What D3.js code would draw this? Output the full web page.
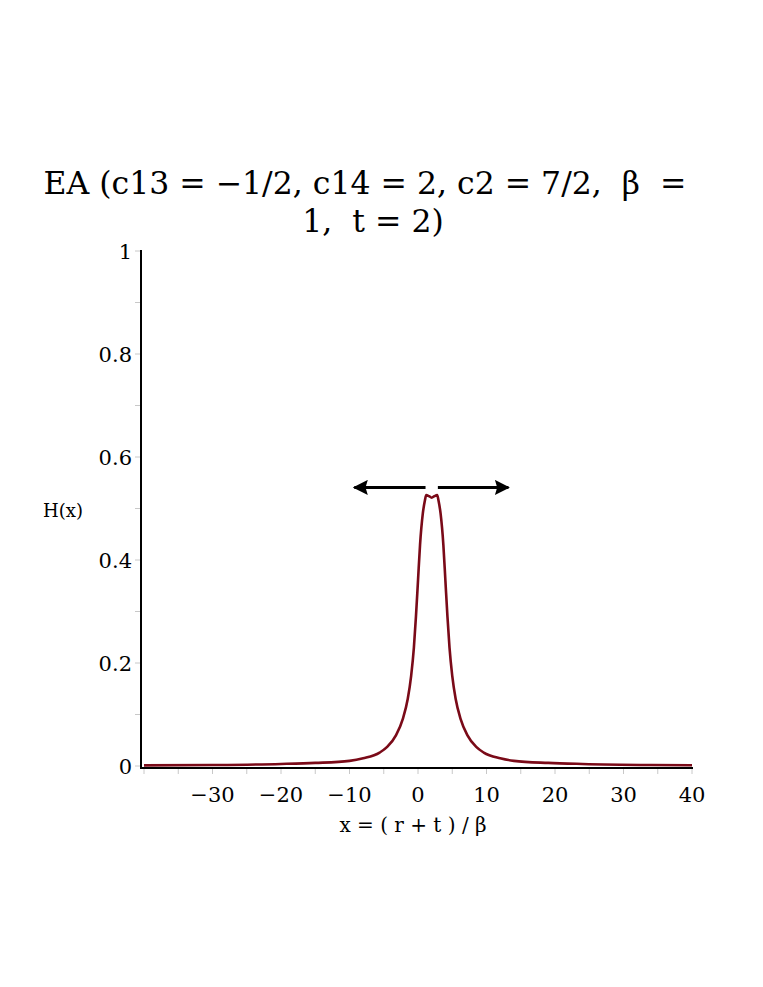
<!DOCTYPE html>
<head>
<meta charset="utf-8">
<style>
  body { margin:0; background:#fff; }
  svg { display:block; }
  text { font-family: "DejaVu Serif", serif; fill:#000; white-space: pre; }
</style>
<script src="https://d3js.org/d3.v7.min.js"></script>
</head>
<body>
<script>

var width = 763;
var height = 987;

// values
var xs = [-40, -30, -20, -15, -10, -8, -5.6, -4.5, -3.2, -2.2, -1.5, -1.0, -0.6, -0.3, 0.0, 0.3, 0.7, 1.0, 1.2,
          1.6, 2.0, 2.4, 2.8, 3.0, 3.3, 3.7, 4.0, 4.3, 4.6, 5.0, 5.5, 6.2, 7.2, 8.5, 9.6, 12, 14, 19, 24, 34, 40];
var hs = [0.0012, 0.002, 0.004, 0.006, 0.01, 0.015, 0.026, 0.037, 0.06, 0.092, 0.13, 0.175, 0.23, 0.29, 0.36, 0.43, 0.49, 0.515, 0.526,
          0.524, 0.521, 0.524, 0.526, 0.515, 0.49, 0.43, 0.36, 0.29, 0.23, 0.175, 0.13, 0.092, 0.06, 0.037, 0.026, 0.015, 0.01, 0.006, 0.004, 0.002, 0.0015];

var xTicks = [-30, -20, -10, 0, 10, 20, 30, 40];
var xMinor = [-40, -35, -25, -15, -5, 5, 15, 25, 35];
var yTicks = [0, 0.2, 0.4, 0.6, 0.8, 1];
var yMinor = [0.1, 0.3, 0.5, 0.7, 0.9];

// the double arrow above the peak (data units)
var arrowY = 0.541;
var arrowLeft = [1.1, -9.3];
var arrowRight = [2.9, 13.2];

var titleLines = ["EA (c13 = \u22121/2, c14 = 2, c2 = 7/2,  \u03b2  =", "1,  t = 2)"];
var xLabel = "x = ( r + t ) / \u03b2";
var yLabel = "H(x)";

var x = d3.scaleLinear().domain([-40, 40]).range([144, 692]);
var y = d3.scaleLinear().domain([0, 1]).range([766, 251]);
var axisX = 141, axisY = 768;

var svg = d3.select("body").append("svg")
    .attr("width", width)
    .attr("height", height);

// title
svg.selectAll("text.title")
    .data(titleLines)
  .enter().append("text")
    .attr("class", "title")
    .attr("x", function(d, i) { return i == 0 ? 365 : 373; })
    .attr("y", function(d, i) { return 194 + i * 38; })
    .attr("text-anchor", "middle")
    .style("font-size", "31.5px")
    .text(function(d) { return d; });

// minor + major ticks
var tickCol = "#c8c8c8";
svg.selectAll("line.xt")
    .data(xTicks.concat(xMinor))
  .enter().append("line")
    .attr("x1", function(d) { return x(d); })
    .attr("x2", function(d) { return x(d); })
    .attr("y1", axisY).attr("y2", axisY + 6)
    .attr("stroke", tickCol).attr("stroke-width", 1);

svg.selectAll("line.yt")
    .data(yTicks.concat(yMinor))
  .enter().append("line")
    .attr("y1", function(d) { return y(d); })
    .attr("y2", function(d) { return y(d); })
    .attr("x1", axisX - 6).attr("x2", axisX)
    .attr("stroke", tickCol).attr("stroke-width", 1);

// axis lines
svg.append("line")
    .attr("x1", axisX).attr("x2", axisX)
    .attr("y1", y(1) - 1).attr("y2", axisY + 1)
    .attr("stroke", "#000").attr("stroke-width", 2);
svg.append("line")
    .attr("x1", axisX).attr("x2", x(40) + 1)
    .attr("y1", axisY).attr("y2", axisY)
    .attr("stroke", "#000").attr("stroke-width", 2);

// tick labels
svg.selectAll("text.xl")
    .data(xTicks)
  .enter().append("text")
    .attr("x", function(d) { return x(d); })
    .attr("y", 802)
    .attr("text-anchor", "middle")
    .style("font-size", "21px")
    .text(function(d) { return d < 0 ? "\u2212" + Math.abs(d) : d; });

svg.selectAll("text.yl")
    .data(yTicks)
  .enter().append("text")
    .attr("x", 132)
    .attr("y", function(d) { return y(d) + 8; })
    .attr("text-anchor", "end")
    .style("font-size", "21px")
    .text(function(d) { return d; });

svg.append("text")
    .attr("x", 413).attr("y", 832)
    .attr("text-anchor", "middle")
    .style("font-size", "20px")
    .text(xLabel);

svg.append("text")
    .attr("x", 63).attr("y", 517)
    .attr("text-anchor", "middle")
    .style("font-size", "18px")
    .text(yLabel);

// curve
var line = d3.line()
    .x(function(d, i) { return x(xs[i]); })
    .y(function(d) { return y(d); })
    .curve(d3.curveMonotoneX);

svg.append("path")
    .datum(hs)
    .attr("d", line)
    .attr("fill", "none")
    .attr("stroke", "#7a0a18")
    .attr("stroke-width", 2.6);

// arrows
svg.append("defs").append("marker")
    .attr("id", "ah")
    .attr("viewBox", "0 0 10 10")
    .attr("refX", 9).attr("refY", 5)
    .attr("markerWidth", 6).attr("markerHeight", 5)
    .attr("markerUnits", "strokeWidth")
    .attr("orient", "auto")
  .append("path")
    .attr("d", "M0,0 L10,5 L0,10 L1.5,5 Z")
    .attr("fill", "#000");

[arrowLeft, arrowRight].forEach(function(a) {
  svg.append("line")
    .attr("x1", x(a[0])).attr("x2", x(a[1]))
    .attr("y1", y(arrowY)).attr("y2", y(arrowY))
    .attr("stroke", "#000").attr("stroke-width", 3)
    .attr("marker-end", "url(#ah)");
});

</script>
</body>
